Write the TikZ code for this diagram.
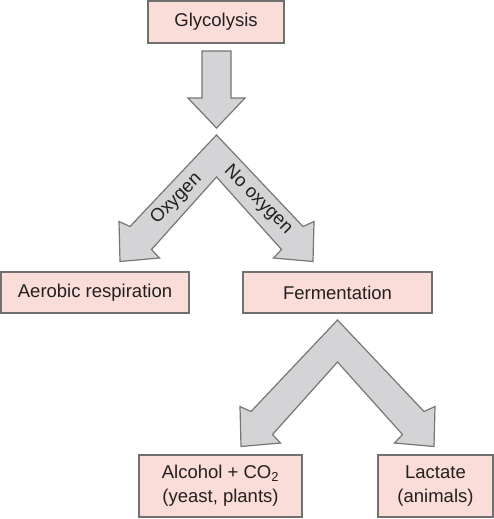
\documentclass[tikz,border=0pt]{standalone}
\usepackage{fontspec}
\setmainfont{Liberation Sans}
\definecolor{boxfill}{RGB}{250,221,216}
\definecolor{boxline}{RGB}{112,112,112}
\definecolor{arrowfill}{RGB}{212,212,214}
\definecolor{arrowline}{RGB}{118,118,118}
\definecolor{txt}{RGB}{35,31,32}
\begin{document}
\begin{tikzpicture}[x=1pt,y=-1pt,
  box/.style={draw=boxline, fill=boxfill, line width=1.3pt, inner sep=0pt,
    font=\fontsize{18.5}{24}\selectfont, text=txt, align=center},
  blockarrow/.style={draw=arrowline, fill=arrowfill, line width=1.2pt, line join=miter},
  lbl/.style={font=\fontsize{18.5}{22}\selectfont, text=txt, inner sep=0pt}]
\useasboundingbox (0,0) rectangle (494,519);
\fill[white] (0,0) rectangle (494,519);

% boxes
\node[box, minimum width=136pt, minimum height=42pt] (glyc) at (216,22) {Glycolysis};
\node[box, minimum width=188pt, minimum height=41pt] (aer) at (95,292.5) {Aerobic respiration};
\node[box, minimum width=189pt, minimum height=41pt] (ferm) at (337.5,292.5) {Fermentation};
\node[box, minimum width=163pt, minimum height=62pt] (alc) at (220.5,486) {Alcohol + CO\textsubscript{2}\\(yeast, plants)};
\node[box, minimum width=115pt, minimum height=62pt] (lac) at (435.5,486) {Lactate\\(animals)};

% anchor points of the block arrows
\coordinate (down) at (216.5,51);
\coordinate (v1) at (216.5,135);
\coordinate (v2) at (337.5,320);

% down arrow
\draw[blockarrow, shift={(down)}] (-14.5,0) -- (14.5,0) -- (14.5,47) -- (28.5,47)
  -- (0,77) -- (-28.5,47) -- (-14.5,47) -- cycle;

% V arrows
\foreach \v in {v1,v2}{
  \draw[blockarrow, shift={(\v)}] (0,0) -- (86.5,91.5) -- (97.5,86.5) -- (96.5,126.5)
    -- (57,123) -- (65,114.5) -- (0,42) -- (-65,114.5) -- (-57,123)
    -- (-96.5,126.5) -- (-97.5,86.5) -- (-86.5,91.5) -- cycle;
}

% labels
\node[lbl, rotate=45] (oxy) at (176.5,199) {Oxygen};
\node[lbl, rotate=-45] (nooxy) at (258,200) {No oxygen};
\end{tikzpicture}
\end{document}
